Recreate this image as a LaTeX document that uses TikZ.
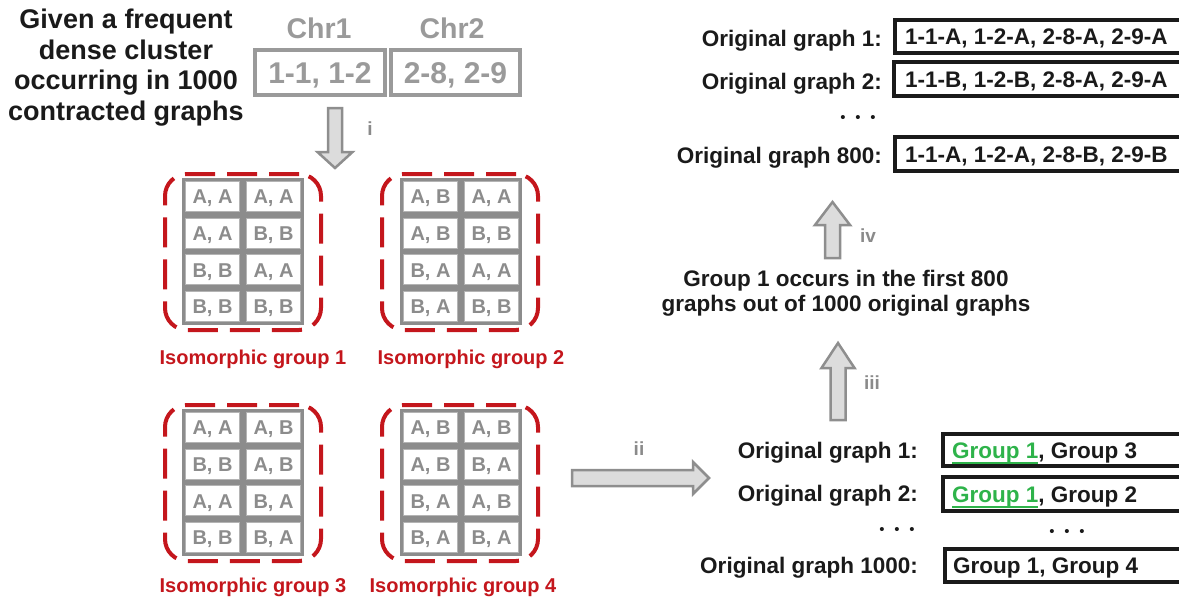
\documentclass[tikz,border=0pt]{standalone}
\usepackage{fontspec}
\setmainfont{Liberation Sans}
\usetikzlibrary{calc}
\definecolor{ink}{HTML}{1A1A1A}
\definecolor{chrgray}{HTML}{9A9A9A}
\definecolor{gridgray}{HTML}{8C8C8C}
\definecolor{cellline}{HTML}{B4B4B4}
\definecolor{celltext}{HTML}{8C8C8C}
\definecolor{isored}{HTML}{C4161C}
\definecolor{arrfill}{HTML}{DCDCDC}
\definecolor{arrline}{HTML}{8E8E8E}
\definecolor{romangray}{HTML}{8A8A8A}
\definecolor{grp}{HTML}{2EB34A}
\newcommand\setfs[2]{\fontsize{#1}{#2}\selectfont}
\newcommand\grpul[1]{\setbox0\hbox{#1}\rlap{\rule[-5.6pt]{\wd0}{1.3pt}}\box0}
\tikzset{
  lbl/.style={inner sep=0pt, anchor=base},
  headtxt/.style={lbl, text=ink, font=\bfseries\setfs{27}{30}},
  chrtxt/.style={lbl, text=chrgray, font=\bfseries\setfs{28.5}{30}},
  chrbox/.style={draw=chrgray, line width=4pt, inner sep=0pt, minimum height=45pt,
     text=chrgray, font=\bfseries\setfs{30}{30}, text height=21.5pt, text depth=0pt},
  gridbg/.style={fill=gridgray, inner sep=0pt, minimum width=122pt, minimum height=147pt},
  cell/.style={fill=white, draw=cellline, line width=0.8pt, inner sep=0pt,
     minimum width=54pt, minimum height=30pt, text=celltext,
     font=\bfseries\setfs{20}{20}, text height=14.4pt, text depth=0pt},
  isodash/.style={draw=isored, line width=4pt, dash pattern=on 30pt off 12pt,
     rounded corners=22pt, inner sep=0pt, minimum width=156pt, minimum height=156pt},
  isolbl/.style={lbl, anchor=base, text=isored, font=\bfseries\setfs{20}{20}},
  blk/.style={lbl, text=ink, font=\bfseries\setfs{22.5}{25}},
  blkr/.style={blk, anchor=base east},
  blkc/.style={blk, anchor=base},
  gtext/.style={inner sep=0pt, anchor=base west, text=ink, font=\bfseries\setfs{22.5}{25}},
  gframe/.style={draw=ink, line width=4pt},
  barrow/.style={fill=arrfill, draw=arrline, line width=2.5pt, line join=miter},
  roman/.style={lbl, text=romangray, font=\bfseries\setfs{19}{19}},
  dotrow/.style={inner sep=0pt, text=ink, font=\setfs{15}{15}},
}
\newcommand\isogrp[4]{%
  \node[gridbg] (#1) at (#2,#3) {};
  \foreach \lab [count=\k from 0] in {#4} {
    \pgfmathtruncatemacro\cc{mod(\k,2)}
    \pgfmathtruncatemacro\rr{div(\k,2)}
    \node[cell] (#1-\k) at ($(#1)+({(\cc-0.5)*61},{(\rr-1.5)*36.75})$) {\lab};
  }
}
\begin{document}
\begin{tikzpicture}[x=1pt,y=-1pt]
\useasboundingbox (0,0) rectangle (1179,598);
\clip (0,0) rectangle (1179,598);

% ---- top-left statement
\node[headtxt] (h1) at (126,28.5) {Given a frequent};
\node[headtxt] (h2) at (126,59) {dense cluster};
\node[headtxt] (h3) at (126,89.5) {occurring in 1000};
\node[headtxt] (h4) at (126,120) {contracted graphs};

% ---- chromosome boxes
\node[chrtxt] (chr1) at (319,38) {Chr1};
\node[chrtxt] (chr2) at (452,38) {Chr2};
\node[chrbox, minimum width=130pt] (cb1) at (320,72.5) {1-1, 1-2};
\node[chrbox, minimum width=129pt] (cb2) at (455.5,72.5) {2-8, 2-9};

% ---- arrow i
\draw[barrow] (328,108) -- (342,108) -- (342,152) -- (352.5,152) -- (335,168) -- (317.5,152) -- (328,152) -- cycle;
\node[roman] (ri) at (370,135) {i};

% ---- isomorphic groups
\node[isodash] (d1) at (243,252) {};
\node[isodash] (d2) at (460,252) {};
\node[isodash] (d3) at (243,483) {};
\node[isodash] (d4) at (460,483) {};
\isogrp{g1}{243}{251.5}{{A, A},{A, A},{A, A},{B, B},{B, B},{A, A},{B, B},{B, B}}
\isogrp{g2}{461}{251.5}{{A, B},{A, A},{A, B},{B, B},{B, A},{A, A},{B, A},{B, B}}
\isogrp{g3}{243}{482.5}{{A, A},{A, B},{B, B},{A, B},{A, A},{B, A},{B, B},{B, A}}
\isogrp{g4}{461}{482.5}{{A, B},{A, B},{A, B},{B, A},{B, A},{A, B},{B, A},{B, A}}
\node[isolbl] (l1) at (253,364) {Isomorphic group 1};
\node[isolbl] (l2) at (471,364) {Isomorphic group 2};
\node[isolbl] (l3) at (253,592) {Isomorphic group 3};
\node[isolbl] (l4) at (463,592) {Isomorphic group 4};

% ---- arrow ii
\draw[barrow] (572,470) -- (693,470) -- (693,462) -- (709,478) -- (693,494) -- (693,486) -- (572,486) -- cycle;
\node[roman] (rii) at (639,455) {ii};

% ---- bottom-right table
\node[blkr] (o1) at (918,458) {Original graph 1:};
\node[blkr] (o2) at (918,501) {Original graph 2:};
\node[dotrow] (od) at (897,531) {\textbullet\hspace{9.7pt}\textbullet\hspace{9.7pt}\textbullet};
\node[blkr] (o3) at (918,573) {Original graph 1000:};
\draw[gframe] (943,434) rectangle (1240,466);
\draw[gframe] (943,477) rectangle (1240,511);
\draw[gframe] (945,549) rectangle (1240,582);
\node[gtext] (b1) at (952,458) {\textcolor{grp}{\grpul{Group 1}}, Group 3};
\node[gtext] (b2) at (952,502) {\textcolor{grp}{\grpul{Group 1}}, Group 2};
\node[dotrow] (bd) at (1067,533) {\textbullet\hspace{9.7pt}\textbullet\hspace{9.7pt}\textbullet};
\node[gtext] (b3) at (953,573.5) {Group 1, Group 4};

% ---- arrow iii
\draw[barrow] (830.5,420) -- (845.5,420) -- (845.5,368) -- (854.5,368) -- (838,343) -- (821.5,368) -- (830.5,368) -- cycle;
\node[roman] (riii) at (872,389) {iii};

% ---- middle statement
\node[blkc] (s1) at (846,286) {Group 1 occurs in the first 800};
\node[blkc] (s2) at (846,311) {graphs out of 1000 original graphs};

% ---- arrow iv
\draw[barrow] (825,258) -- (840,258) -- (840,225) -- (850,225) -- (832.5,202) -- (815,225) -- (825,225) -- cycle;
\node[roman] (riv) at (868,242) {iv};

% ---- top-right table
\node[blkr] (t1) at (882,46) {Original graph 1:};
\node[blkr] (t2) at (882,89) {Original graph 2:};
\node[dotrow] (td) at (858,119) {\textbullet\hspace{9.7pt}\textbullet\hspace{9.7pt}\textbullet};
\node[blkr] (t3) at (882,163) {Original graph 800:};
\draw[gframe] (895,20) rectangle (1240,53);
\draw[gframe] (894,62) rectangle (1240,96);
\draw[gframe] (895,137) rectangle (1240,171);
\node[gtext] (c1) at (905,44.5) {1-1-A, 1-2-A, 2-8-A, 2-9-A};
\node[gtext] (c2) at (905,87) {1-1-B, 1-2-B, 2-8-A, 2-9-A};
\node[gtext] (c3) at (905,162) {1-1-A, 1-2-A, 2-8-B, 2-9-B};
\end{tikzpicture}
\end{document}
